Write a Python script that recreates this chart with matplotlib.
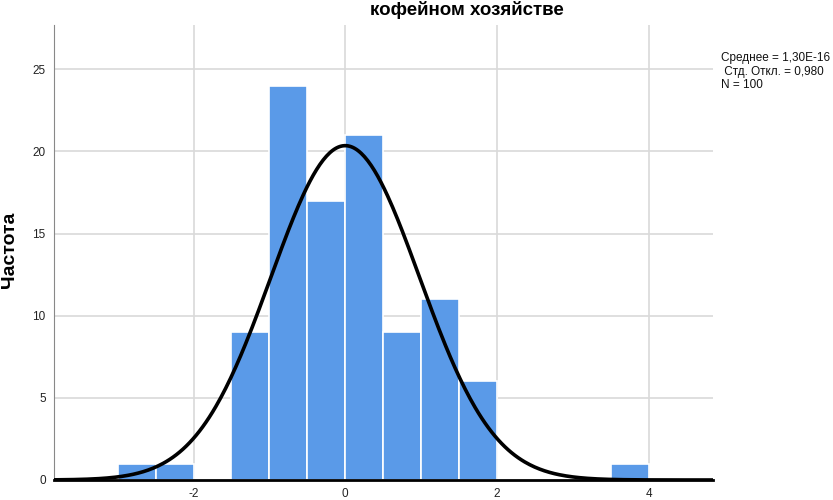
#!/usr/bin/env python
# -*- coding: utf-8 -*-

"""
Histogram of standardized residuals with a fitted normal curve (SPSS style).
"""

# Standard library modules.
import math

# Third party modules.
import numpy as np
import matplotlib
matplotlib.use("Agg")
import matplotlib.pyplot as plt

# Globals and constants variables.
bin_edges = [-3.0, -2.5, -2.0, -1.5, -1.0, -0.5, 0.0, 0.5, 1.0, 1.5, 2.0,
             2.5, 3.0, 3.5, 4.0]
counts = [1, 1, 0, 9, 24, 17, 21, 9, 11, 6, 0, 0, 0, 1]
mean = 0.0
std_dev = 0.980
n_total = 100
x_ticks = [-2, 0, 2, 4]
y_ticks = [0, 5, 10, 15, 20, 25]
title_text = "кофейном хозяйстве"
y_label = "Частота"
stats_lines = ["Среднее = 1,30E-16", " Стд. Откл. = 0,980", "N = 100"]

bar_color = "#5a9ae8"


def run():
    plt.rcParams['font.family'] = ['Liberation Sans', 'DejaVu Sans']

    fig = plt.figure(figsize=(8.33, 5.0), dpi=100)
    ax = fig.add_axes([54 / 833, 20 / 500, (713 - 54) / 833, (475 - 20) / 500])

    lefts = np.array(bin_edges[:-1])
    widths = np.diff(bin_edges)
    ax.bar(lefts, counts, width=widths, align="edge", color=bar_color,
           edgecolor="white", linewidth=1.2, zorder=2)

    # fitted normal curve scaled to the histogram
    bin_width = widths[0]
    xs = np.linspace(-3.84, 4.85, 400)
    pdf = np.exp(-0.5 * ((xs - mean) / std_dev) ** 2) / (std_dev * math.sqrt(2 * math.pi))
    ax.plot(xs, n_total * bin_width * pdf, color="black", linewidth=2.6, zorder=3)

    ax.set_xlim(-3.84, 4.85)
    ax.set_ylim(0, 27.7)
    ax.set_xticks(x_ticks)
    ax.set_yticks(y_ticks)
    ax.set_xticklabels([str(t) for t in x_ticks])
    ax.tick_params(axis="both", length=0, labelsize=8.5, pad=6, colors="#222222")
    ax.grid(True, color="#d9d9d9", linewidth=1.2, zorder=0)
    ax.set_axisbelow(True)

    for side in ("top", "right"):
        ax.spines[side].set_visible(False)
    ax.spines["left"].set_color("#888888")
    ax.spines["bottom"].set_color("black")
    ax.spines["bottom"].set_linewidth(2.0)
    ax.spines["bottom"].set_zorder(4)

    fig.text(10 / 833, 0.5, y_label, rotation=90, ha="center", va="center",
             fontsize=14, fontweight="bold")
    fig.text(467 / 833, 1 - 10 / 500, title_text, ha="center", va="center",
             fontsize=13.5, fontweight="bold")

    for i, line in enumerate(stats_lines):
        fig.text(721 / 833, 1 - (58 + i * 13.5) / 500, line, ha="left",
                 va="center", fontsize=8.5, color="#111111")

    fig.savefig("out.png", dpi=100)


def main():
    run()


if __name__ == '__main__':  # pragma: no cover
    main()
